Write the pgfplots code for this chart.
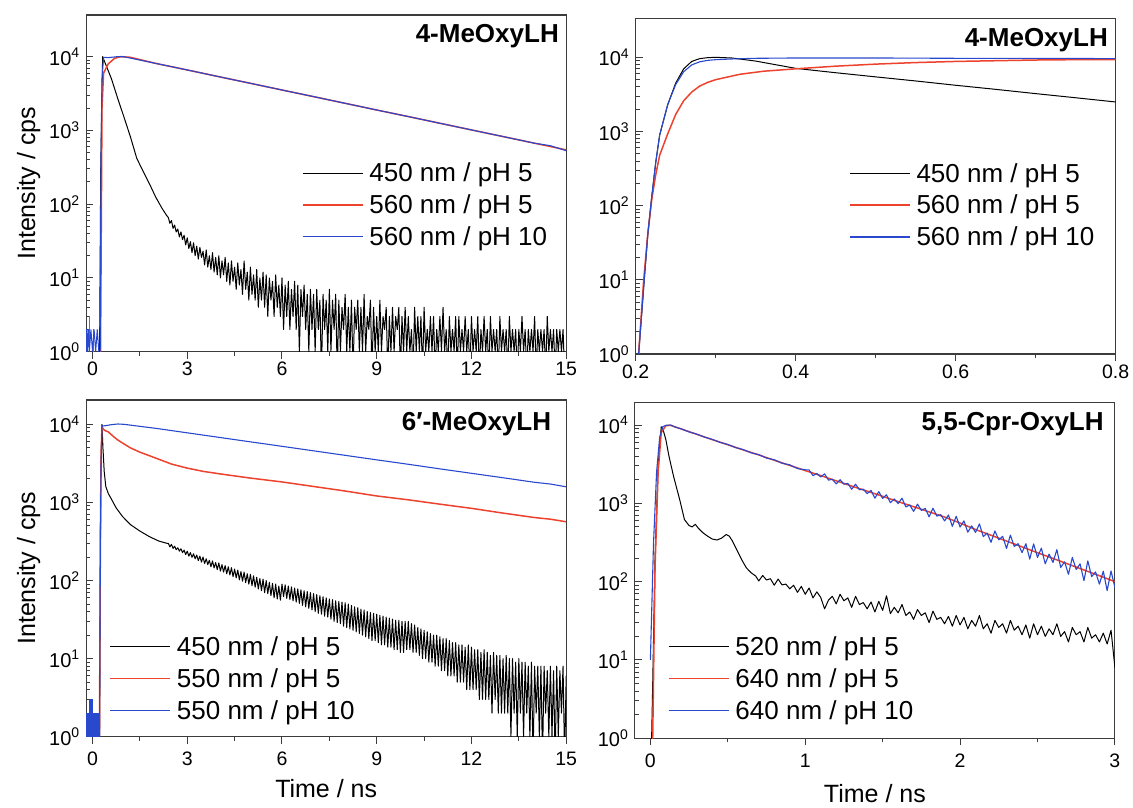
\documentclass[border=0pt]{standalone}
\usepackage{pgfplots}
\pgfplotsset{compat=1.18}
\usepackage{fontspec}
\setmainfont{Liberation Sans}
\definecolor{myred}{RGB}{236,66,46}
\definecolor{myblue}{RGB}{40,72,205}
\definecolor{axgray}{RGB}{60,60,60}
\tikzset{
  sBlk/.style={black, line width=1pt, line join=round},
  sRed/.style={myred, line width=1.5pt, line join=round},
  sBlu/.style={myblue, line width=1.1pt, line join=round},
}
\pgfplotsset{
  every axis/.append style={
    scale only axis, width=480pt, ymin=1,
    ytick={1,10,100,1000,10000},
    yticklabels={10\textsuperscript{0},10\textsuperscript{1},10\textsuperscript{2},10\textsuperscript{3},10\textsuperscript{4}},
    xtick pos=left, ytick pos=left,
    xtick align=outside, ytick align=inside,
    major tick length=7pt, minor tick length=4pt,
    axis line style={axgray, line width=1.1pt},
    tick style={axgray, line width=1pt},
    xticklabel style={font=\fontsize{19.5}{22}\selectfont},
    yticklabel style={font=\fontsize{20}{22}\selectfont, xshift=-3pt},
    label style={font=\fontsize{25}{28}\selectfont},
    ylabel style={yshift=2pt},
    legend style={draw=none, fill=none, inner sep=0pt, anchor=north west,
      font=\fontsize{26}{28}\selectfont, row sep=7.5pt},
    legend cell align=left,
    legend image code/.code={\draw[##1] (0pt,0pt) -- (60pt,0pt); \path (64pt,0pt);},
  },
}
\newcommand{\ttl}{\fontsize{26}{30}\selectfont\bfseries}
\begin{document}
\begin{tikzpicture}
\useasboundingbox (0pt,0pt) rectangle (1133pt,808pt);
% ---------------- Top left
\begin{semilogyaxis}[at={(86.2pt,456.3pt)}, anchor=south west, height=336.7pt,
  xmin=-0.2, xmax=15, ymax=36700,
  xtick={0,3,6,9,12,15}, xticklabels={0,3,6,9,12,15}, minor x tick num=1,
  ylabel={Intensity / cps},
  legend style={at={(0.449,0.567)}}]
\addplot[sBlk] coordinates {(0.22,0.5)(0.26,300)(0.32,10000)(0.4,8200)(0.6,5000)(0.8,2700)(1.0,1500)(1.2,820)(1.4,420)(1.6,280)(1.8,190)(2.0,125)(2.2,88)(2.35,70)
(2.40,66)(2.45,55)(2.50,60)(2.55,47)(2.60,52)(2.65,42)(2.70,46)(2.75,36)(2.80,42)(2.85,33)(2.90,38)(2.95,28)(3.00,35)(3.05,25)(3.10,31)(3.15,22)(3.20,30)(3.25,20)(3.30,27)(3.35,18)
(3.40,26)(3.45,19)(3.50,23)(3.55,15)(3.60,24)(3.65,14)(3.70,20)(3.75,13)(3.80,22)(3.85,12)(3.90,19)(3.95,11)(4.00,20)(4.05,10)(4.10,17)(4.15,11)(4.20,19)(4.25,9)(4.30,16)(4.35,8)
(4.40,17)(4.45,9)(4.50,14)(4.55,7)(4.60,16)(4.65,8)(4.70,13)(4.75,6)(4.80,17)(4.85,7)(4.90,12)(4.95,5)(5.00,14)(5.05,6)(5.10,11)(5.15,5)(5.20,13)(5.25,4)(5.30,10)(5.35,5)
(5.40,12)(5.45,4)(5.50,11)(5.55,3)(5.60,10)(5.65,5)(5.70,9)(5.75,3)(5.80,11)(5.85,4)(5.90,8)(5.95,3)(6.00,10)(6.05,2)(6.10,8)(6.15,3)(6.20,9)(6.25,2)(6.30,7)(6.35,3)
(6.40,9)(6.45,2)(6.50,8)(6.55,1)(6.60,7)(6.65,3)(6.70,8)(6.75,2)(6.80,6)(6.85,1)(6.90,7)(6.95,2)(7.00,6)(7.05,1)(7.10,7)(7.15,2)(7.20,5)(7.25,0.5)(7.30,6)(7.35,2)
(7.40,5)(7.45,1)(7.50,7)(7.55,1)(7.60,5)(7.65,2)(7.70,6)(7.75,0.5)(7.80,5)(7.85,1)(7.90,4)(7.95,2)(8.00,6)(8.05,1)(8.10,4)(8.15,1)(8.20,5)(8.25,0.5)(8.30,4)(8.35,2)
(8.40,5)(8.45,1)(8.50,4)(8.55,1)(8.60,6)(8.65,1)(8.70,3)(8.75,2)(8.80,5)(8.85,0.5)(8.90,4)(8.95,1)(9.00,3)(9.05,1)(9.10,5)(9.15,1)(9.20,3)(9.25,2)(9.30,4)(9.35,0.5)
(9.40,3)(9.45,1)(9.50,4)(9.55,1)(9.60,3)(9.65,2)(9.70,4)(9.75,0.5)(9.80,3)(9.85,1)(9.90,4)(9.95,1)(10.00,3)(10.05,1)(10.10,2)(10.15,0.5)(10.20,4)(10.25,1)(10.30,3)(10.35,1)
(10.40,3)(10.45,0.5)(10.50,4)(10.55,1)(10.60,2)(10.65,1)(10.70,3)(10.75,1)(10.80,3)(10.85,0.5)(10.90,2)(10.95,1)(11.00,3)(11.05,1)(11.10,4)(11.15,1)(11.20,2)(11.25,0.5)(11.30,3)(11.35,1)
(11.40,2)(11.45,1)(11.50,3)(11.55,0.5)(11.60,3)(11.65,1)(11.70,2)(11.75,1)(11.80,3)(11.85,1)(11.90,2)(11.95,0.5)(12.00,3)(12.05,1)(12.10,2)(12.15,1)(12.20,3)(12.25,0.5)(12.30,2)(12.35,1)
(12.40,3)(12.45,1)(12.50,2)(12.55,0.5)(12.60,3)(12.65,1)(12.70,2)(12.75,1)(12.80,2)(12.85,0.5)(12.90,3)(12.95,1)(13.00,2)(13.05,1)(13.10,2)(13.15,0.5)(13.20,3)(13.25,1)(13.30,2)(13.35,1)
(13.40,2)(13.45,0.5)(13.50,2)(13.55,1)(13.60,3)(13.65,1)(13.70,2)(13.75,0.5)(13.80,2)(13.85,1)(13.90,2)(13.95,1)(14.00,3)(14.05,0.5)(14.10,2)(14.15,1)(14.20,2)(14.25,1)(14.30,2)(14.35,0.5)
(14.40,3)(14.45,1)(14.50,2)(14.55,1)(14.60,2)(14.65,0.5)(14.70,2)(14.75,1)(14.80,2)(14.85,1)(14.90,2)(14.95,0.5)(15.00,1)};
\addlegendentry{450 nm / pH 5}
\addplot[sRed] coordinates {(0.25,0.5)(0.3,2000)(0.35,6000)(0.5,8000)(0.7,9500)(0.9,10000)(1.2,9800)(2,8100)(3,6600)(4,5350)(5,4350)(6,3530)(7,2870)(8,2330)(9,1890)(10,1540)(11,1250)(12,1015)(13,825)(14,670)(15,545)};
\addlegendentry{560 nm / pH 5}
\addplot[sBlu] coordinates {(0.24,0.5)(0.27,500)(0.3,5000)(0.35,9800)(0.5,9700)(0.8,10000)(1.0,9950)(2,8100)(3,6600)(4,5350)(5,4350)(6,3530)(7,2870)(8,2330)(9,1890)(10,1540)(11,1250)(12,1015)(13,825)(14,670)(14.5,620)(15,530)};
\addlegendentry{560 nm / pH 10}
\addplot[myred, line width=1pt, forget plot] coordinates {(-0.2,0.5)(-0.1,0.5)(-0.1,3)(-0.08,3)(-0.08,0.5)(0.02,0.5)(0.02,2)(0.04,2)(0.04,0.5)};
\addplot[myblue, line width=1pt, forget plot] coordinates {(-0.2,0.5)(-0.2,2)(-0.17,2)(-0.16,1)(-0.12,2)(-0.1,1)(-0.05,2)(0,1)(0.05,2)(0.1,1)(0.15,2)(0.2,1)(0.22,0.5)};
\node[anchor=north east, inner sep=0pt, font=\ttl] at (rel axis cs:0.985,0.973) {4-MeOxyLH};
\end{semilogyaxis}
% ---------------- Top right
\begin{semilogyaxis}[at={(635.7pt,454pt)}, anchor=south west, height=335.7pt,
  xmin=0.2, xmax=0.8, ymax=33600,
  xtick={0.2,0.4,0.6,0.8}, xticklabels={0.2,0.4,0.6,0.8}, minor x tick num=1,
  legend style={at={(0.444,0.575)}}]
\addplot[sBlk] coordinates {(0.203,0.8)(0.21,8)(0.215,40)(0.22,130)(0.225,380)(0.23,900)(0.24,2300)(0.25,4500)(0.26,7000)(0.27,8800)(0.28,9600)(0.29,9900)(0.30,10000)(0.32,9800)(0.35,8900)(0.4,7100)(0.45,6200)(0.5,5450)(0.55,4800)(0.6,4200)(0.65,3700)(0.7,3240)(0.75,2850)(0.8,2500)};
\addlegendentry{450 nm / pH 5}
\addplot[sRed] coordinates {(0.203,0.8)(0.21,10)(0.215,40)(0.22,120)(0.225,260)(0.23,480)(0.24,930)(0.25,1700)(0.26,2600)(0.27,3400)(0.28,4100)(0.29,4600)(0.30,5000)(0.33,5900)(0.36,6500)(0.4,7000)(0.45,7600)(0.5,8100)(0.55,8500)(0.6,8800)(0.65,9000)(0.7,9200)(0.75,9300)(0.8,9300)};
\addlegendentry{560 nm / pH 5}
\addplot[sBlu] coordinates {(0.203,0.8)(0.21,8)(0.215,40)(0.22,130)(0.225,380)(0.23,900)(0.24,2300)(0.25,4300)(0.26,6400)(0.27,7900)(0.28,8700)(0.29,9100)(0.30,9300)(0.32,9500)(0.35,9700)(0.4,9800)(0.5,9800)(0.6,9700)(0.7,9700)(0.8,9600)};
\addlegendentry{560 nm / pH 10}
\node[anchor=north east, inner sep=0pt, font=\ttl] at (rel axis cs:0.984,0.97) {4-MeOxyLH};
\end{semilogyaxis}
% ---------------- Bottom left
\begin{semilogyaxis}[at={(86.2pt,71.3pt)}, anchor=south west, height=336.7pt,
  xmin=-0.2, xmax=15, ymax=20500,
  xtick={0,3,6,9,12,15}, xticklabels={0,3,6,9,12,15}, minor x tick num=1,
  xticklabel style={yshift=-5pt},
  ylabel={Intensity / cps}, xlabel={Time / ns},
  xlabel style={yshift=-6pt},
  legend style={at={(0.048,0.304)}}]
\addplot[sBlk] coordinates {(0.22,0.5)(0.26,2000)(0.3,10000)(0.33,5000)(0.37,2500)(0.42,1600)(0.5,1300)(0.6,1100)(0.75,850)(0.95,660)(1.2,520)(1.5,430)(1.8,365)(2.1,320)(2.35,300)
(2.40,300)(2.45,270)(2.50,290)(2.55,258)(2.60,275)(2.65,248)(2.70,262)(2.75,238)(2.80,255)(2.85,228)(2.90,245)(2.95,215)(3.00,238)(3.05,205)(3.10,228)(3.15,198)(3.20,220)(3.25,190)(3.30,212)(3.35,180)
(3.40,205)(3.45,172)(3.50,200)(3.55,165)(3.60,190)(3.65,160)(3.70,182)(3.75,150)(3.80,178)(3.85,145)(3.90,170)(3.95,138)(4.00,168)(4.05,132)(4.10,160)(4.15,128)(4.20,155)(4.25,122)(4.30,150)(4.35,118)
(4.40,146)(4.45,112)(4.50,140)(4.55,108)(4.60,136)(4.65,102)(4.70,130)(4.75,98)(4.80,128)(4.85,94)(4.90,122)(4.95,90)(5.00,120)(5.05,86)(5.10,115)(5.15,82)(5.20,110)(5.25,78)(5.30,106)(5.35,74)
(5.40,104)(5.45,70)(5.50,100)(5.55,68)(5.60,95)(5.65,64)(5.70,92)(5.75,60)(5.80,90)(5.85,58)(5.90,85)(5.95,56)
(6.00,90)(6.05,62)(6.10,88)(6.15,59)(6.20,85)(6.25,57)(6.30,83)(6.35,55)(6.40,80)(6.45,53)(6.50,78)(6.55,51)(6.60,76)(6.65,48)(6.70,74)(6.75,46)(6.80,72)(6.85,44)(6.90,70)(6.95,42)
(7.00,68)(7.05,40)(7.10,66)(7.15,38)(7.20,64)(7.25,37)(7.30,62)(7.35,35)(7.40,60)(7.45,34)(7.50,58)(7.55,32)(7.60,57)(7.65,30)(7.70,55)(7.75,29)(7.80,54)(7.85,28)(7.90,53)(7.95,26)
(8.00,52)(8.05,25)(8.10,50)(8.15,24)(8.20,48)(8.25,23)(8.30,46)(8.35,22)(8.40,45)(8.45,21)(8.50,43)(8.55,20)(8.60,42)(8.65,19)(8.70,40)(8.75,18)(8.80,39)(8.85,17)(8.90,38)(8.95,17)
(9.00,37)(9.05,16)(9.10,36)(9.15,15)(9.20,35)(9.25,15)(9.30,34)(9.35,14)(9.40,33)(9.45,14)(9.50,32)(9.55,13)(9.60,31)(9.65,13)(9.70,31)(9.75,12)(9.80,30)(9.85,12)(9.90,30)(9.95,13)
(10.00,30)(10.05,13)(10.10,28)(10.15,12)(10.20,27)(10.25,12)(10.30,25)(10.35,11)(10.40,24)(10.45,10)(10.50,23)(10.55,10)(10.60,22)(10.65,9)(10.70,21)(10.75,9)(10.80,20)(10.85,8)(10.90,20)(10.95,8)
(11.00,19)(11.05,7)(11.10,18)(11.15,7)(11.20,18)(11.25,6)(11.30,17)(11.35,6)(11.40,16)(11.45,6)(11.50,16)(11.55,5)(11.60,15)(11.65,5)(11.70,15)(11.75,5)(11.80,14)(11.85,4)(11.90,15)(11.95,4)
(12.00,14)(12.05,4)(12.10,13)(12.15,4)(12.20,13)(12.25,3)(12.30,12)(12.35,3)(12.40,13)(12.45,3)(12.50,12)(12.55,3)(12.60,11)(12.65,2)(12.70,12)(12.75,3)(12.80,11)(12.85,2)(12.90,11)(12.95,2)
(13.00,10)(13.05,2)(13.10,11)(13.15,2)(13.20,10)(13.25,1)(13.30,10)(13.35,2)(13.40,9)(13.45,1)(13.50,10)(13.55,2)(13.60,9)(13.65,1)(13.70,9)(13.75,2)(13.80,8)(13.85,1)(13.90,9)(13.95,0.5)
(14.00,8)(14.05,2)(14.10,8)(14.15,1)(14.20,8)(14.25,0.5)(14.30,8)(14.35,2)(14.40,7)(14.45,1)(14.50,8)(14.55,1)(14.60,7)(14.65,0.5)(14.70,8)(14.75,1)(14.80,7)(14.85,2)(14.90,8)(14.95,0.5)(15.00,6)};
\addlegendentry{450 nm / pH 5}
\addplot[sRed] coordinates {(0.2,0.5)(0.22,1)(0.25,400)(0.27,4000)(0.3,9300)(0.35,8600)(0.4,8300)(0.5,8000)(0.66,7000)(0.8,6300)(1.0,5600)(1.2,5000)(1.5,4400)(2.0,3700)(2.5,3100)(3.0,2750)(3.5,2500)(4.1,2300)(5,2050)(6,1830)(7,1600)(8,1400)(9,1210)(10,1080)(11,950)(12,840)(13,730)(14,640)(14.5,610)(15,565)};
\addlegendentry{550 nm / pH 5}
\addplot[sBlu] coordinates {(0.2,0.5)(0.22,1)(0.25,300)(0.27,3000)(0.3,9500)(0.4,9600)(0.6,9900)(0.8,10100)(1.0,10000)(2,8890)(3,7790)(4,6820)(5,5970)(6,5230)(7,4580)(8,4010)(9,3510)(10,3080)(11,2690)(12,2360)(13,2070)(14,1810)(14.5,1720)(15,1585)};
\addlegendentry{550 nm / pH 10}
\addplot[draw=myblue, fill=myblue, line width=0.6pt, forget plot] coordinates {(-0.2,0.5)(-0.2,2)(-0.1,2)(-0.1,3)(0.0,3)(0.0,2)(0.22,2)(0.22,0.5)};
\node[anchor=north east, inner sep=0pt, font=\ttl] at (rel axis cs:0.969,0.965) {6′-MeOxyLH};
\end{semilogyaxis}
% ---------------- Bottom right
\begin{semilogyaxis}[at={(634.9pt,69.7pt)}, anchor=south west, height=336pt,
  xmin=-0.1, xmax=3, ymax=19500,
  xtick={0,1,2,3}, xticklabels={0,1,2,3}, minor x tick num=1,
  xticklabel style={yshift=-5pt},
  xlabel={Time / ns},
  xlabel style={yshift=-10pt},
  legend style={at={(0.0685,0.309)}}]
\addplot[sBlk] coordinates {(0.005,0.5)(0.015,5)(0.03,200)(0.05,3000)(0.07,9500)(0.08,9000)(0.1,6500)(0.12,4000)(0.15,2200)(0.19,1100)(0.22,620)(0.25,520)(0.27,500)(0.29,540)(0.31,480)(0.34,420)(0.37,380)(0.4,350)(0.43,340)(0.46,360)(0.49,400)(0.51,380)(0.53,330)(0.56,250)(0.59,190)(0.62,150)(0.65,130)(0.68,118)
(0.7,102)(0.725,120)(0.75,105)(0.775,109)(0.8,90)(0.825,108)(0.85,91)(0.875,93)(0.9,81)(0.925,90)(0.95,73)(0.975,87)(1.0,69)(1.025,83)(1.05,62)(1.075,74)(1.1,63)(1.125,45)(1.15,58)(1.175,65)
(1.2,52)(1.225,69)(1.25,57)(1.275,62)(1.3,47)(1.325,65)(1.35,51)(1.375,54)(1.4,45)(1.425,55)(1.45,41)(1.475,56)(1.5,43)(1.525,66)(1.55,39)(1.575,47)(1.6,40)(1.625,51)(1.65,37)(1.675,41)
(1.7,33)(1.725,44)(1.75,37)(1.775,40)(1.8,30)(1.825,42)(1.85,33)(1.875,35)(1.9,29)(1.925,36)(1.95,27)(1.975,37)(2.0,28)(2.025,35)(2.05,25)(2.075,32)(2.1,27)(2.125,37)(2.15,25)(2.175,29)
(2.2,22)(2.225,32)(2.25,26)(2.275,29)(2.3,22)(2.325,32)(2.35,24)(2.375,27)(2.4,21)(2.425,28)(2.45,19)(2.475,29)(2.5,21)(2.525,27)(2.55,20)(2.575,25)(2.6,21)(2.625,29)(2.65,20)(2.675,23)
(2.7,17)(2.725,26)(2.75,21)(2.775,23)(2.8,17)(2.825,26)(2.85,19)(2.875,21)(2.9,17)(2.925,22)(2.95,16)(2.975,24)(3.0,8)};
\addlegendentry{520 nm / pH 5}
\addplot[sRed] coordinates {(0.005,0.5)(0.015,1)(0.03,150)(0.05,2500)(0.07,8000)(0.1,9800)(0.13,9900)(0.2,8900)(0.3,7600)(0.4,6500)(0.5,5600)(0.6,4800)(0.7,4150)(0.8,3550)(0.9,3050)(1.0,2620)(1.1,2260)(1.2,1940)(1.3,1660)(1.4,1430)(1.5,1230)(1.6,1050)(1.7,906)(1.8,778)(1.9,668)(2.0,560)(2.1,463)(2.2,391)(2.3,330)(2.4,278)(2.5,234)(2.6,198)(2.7,167)(2.8,141)(2.9,119)(3.0,100)};
\addlegendentry{640 nm / pH 5}
\addplot[sBlu] coordinates {(0,10)(0.02,300)(0.04,2500)(0.06,7000)(0.08,9500)(0.1,9900)(0.13,10000)(0.16,9400)
(0.2,8900)(0.25,8150)(0.3,7650)(0.35,7000)(0.4,6550)(0.45,6000)(0.5,5650)(0.55,5150)(0.6,4850)(0.65,4420)(0.7,4180)(0.75,3780)(0.8,3600)(0.85,3250)(0.9,3100)(0.95,2780)(1.0,2680)
(1.025,2670)(1.05,2258)(1.075,2405)(1.1,2169)(1.125,2378)(1.15,1977)(1.175,2032)(1.2,1770)(1.225,2003)(1.25,1754)(1.275,1796)(1.3,1512)(1.325,1755)(1.35,1492)(1.375,1515)(1.4,1330)
(1.425,1463)(1.45,1163)(1.475,1410)(1.5,1155)(1.525,1286)(1.55,1020)(1.575,1140)(1.6,993)(1.625,1163)(1.65,899)(1.675,954)(1.7,789)(1.725,976)(1.75,812)(1.775,862)(1.8,673)
(1.825,866)(1.85,687)(1.875,717)(1.9,596)(1.925,709)(1.95,509)(1.975,683)(2.0,499)(2.025,597)(2.05,428)(2.075,515)(2.1,426)(2.125,546)(2.15,376)(2.175,417)(2.2,318)
(2.225,444)(2.25,342)(2.275,379)(2.3,265)(2.325,393)(2.35,282)(2.375,305)(2.4,235)(2.425,305)(2.45,194)(2.475,304)(2.5,204)(2.525,268)(2.55,169)(2.575,225)(2.6,176)
(2.625,256)(2.65,152)(2.675,179)(2.7,124)(2.725,204)(2.75,143)(2.775,169)(2.8,103)(2.825,184)(2.85,116)(2.875,133)(2.9,93)(2.925,136)(2.95,77)(2.975,137)(3.0,84)};
\addlegendentry{640 nm / pH 10}
\node[anchor=north east, inner sep=0pt, font=\ttl] at (rel axis cs:0.977,0.972) {5,5-Cpr-OxyLH};
\end{semilogyaxis}
\end{tikzpicture}
\end{document}
